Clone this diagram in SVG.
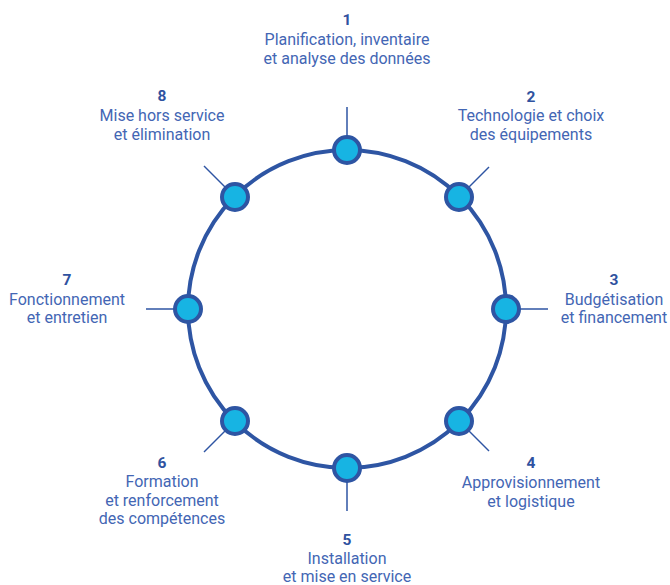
<svg xmlns="http://www.w3.org/2000/svg" width="670" height="585" viewBox="0 0 670 585">
  <style>
    .ring { fill: none; stroke: #2e55a3; stroke-width: 4; }
    .tick { stroke: #2e55a3; stroke-width: 1.5; }
    .dot { fill: #17b4e3; stroke: #2e55a3; stroke-width: 4; }
    .num { font-family: Roboto, "Liberation Sans", sans-serif; font-weight: 700; font-size: 15.5px; fill: #2f52a0; text-anchor: middle; }
    .lbl { font-family: Roboto, "Liberation Sans", sans-serif; font-size: 16px; fill: #4366b4; text-anchor: middle; }
  </style>
  <rect width="670" height="585" fill="#ffffff"/>

  <!-- cycle ring and radial ticks -->
  <g id="connectors">
    <circle class="ring" cx="347" cy="309" r="159"/>
    <line class="tick" x1="347" y1="150" x2="347" y2="107"/>
    <line class="tick" x1="459" y1="197" x2="489" y2="167"/>
    <line class="tick" x1="506" y1="309" x2="548" y2="309"/>
    <line class="tick" x1="459" y1="421" x2="489" y2="451"/>
    <line class="tick" x1="347" y1="468" x2="347" y2="511"/>
    <line class="tick" x1="235" y1="421" x2="204" y2="452"/>
    <line class="tick" x1="188" y1="309" x2="146" y2="309"/>
    <line class="tick" x1="235" y1="197" x2="204" y2="166"/>
  </g>

  <g id="step1">
    <circle class="dot" cx="347" cy="150" r="13"/>
    <text class="num" x="347" y="25">1</text>
    <text class="lbl" x="347" y="45">Planification, inventaire</text>
    <text class="lbl" x="347" y="63.5">et analyse des données</text>
  </g>
  <g id="step2">
    <circle class="dot" cx="459" cy="197" r="13"/>
    <text class="num" x="531" y="102">2</text>
    <text class="lbl" x="531" y="121">Technologie et choix</text>
    <text class="lbl" x="531" y="140">des équipements</text>
  </g>
  <g id="step3">
    <circle class="dot" cx="506" cy="309" r="13"/>
    <text class="num" x="614" y="285">3</text>
    <text class="lbl" x="614" y="305">Budgétisation</text>
    <text class="lbl" x="614" y="323">et financement</text>
  </g>
  <g id="step4">
    <circle class="dot" cx="459" cy="421" r="13"/>
    <text class="num" x="531" y="468">4</text>
    <text class="lbl" x="531" y="488">Approvisionnement</text>
    <text class="lbl" x="531" y="506.5">et logistique</text>
  </g>
  <g id="step5">
    <circle class="dot" cx="347" cy="468" r="13"/>
    <text class="num" x="347" y="545">5</text>
    <text class="lbl" x="347" y="563.5">Installation</text>
    <text class="lbl" x="347" y="582">et mise en service</text>
  </g>
  <g id="step6">
    <circle class="dot" cx="235" cy="421" r="13"/>
    <text class="num" x="162" y="468">6</text>
    <text class="lbl" x="162" y="487">Formation</text>
    <text class="lbl" x="162" y="505.5">et renforcement</text>
    <text class="lbl" x="162" y="524">des compétences</text>
  </g>
  <g id="step7">
    <circle class="dot" cx="188" cy="309" r="13"/>
    <text class="num" x="67" y="285">7</text>
    <text class="lbl" x="67" y="305">Fonctionnement</text>
    <text class="lbl" x="67" y="323">et entretien</text>
  </g>
  <g id="step8">
    <circle class="dot" cx="235" cy="197" r="13"/>
    <text class="num" x="162" y="101">8</text>
    <text class="lbl" x="162" y="121">Mise hors service</text>
    <text class="lbl" x="162" y="140">et élimination</text>
  </g>
</svg>
